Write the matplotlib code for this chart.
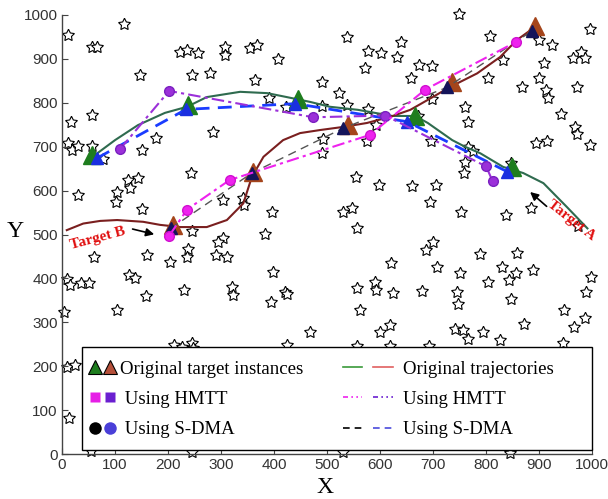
import numpy as np
import matplotlib
matplotlib.use("Agg")
import matplotlib.pyplot as plt
from matplotlib.lines import Line2D
from matplotlib.patches import Rectangle
from matplotlib.legend_handler import HandlerTuple

# === Sensor nodes (stars) ===
star_x = [11, 117, 57, 66, 147, 223, 235, 257, 246, 279, 307, 307, 355, 368, 364, 408, 390, 423,
          491, 491, 538, 640, 578, 602, 632, 572, 674, 698, 659, 523, 538, 577, 698, 672, 592, 575,
          696, 492, 491, 748, 808, 900, 925, 996, 964, 979, 987, 910, 832, 804, 868, 899, 912, 916,
          971, 942, 968, 972, 894, 915, 996, 760, 766, 766, 776, 760, 758, 846, 884, 838, 752, 974,
          17, 57, 11, 19, 30, 57, 78, 151, 178, 284, 243, 30, 104, 102, 125, 143, 128, 150, 303,
          342, 343, 396, 383, 245, 238, 236, 304, 294, 160, 60, 204, 290, 311, 398, 9, 15, 35, 50,
          126, 137, 158, 231, 320, 322, 394, 420, 424, 3, 104, 468, 10, 25, 14, 211, 227, 245, 247,
          424, 555, 598, 661, 706, 694, 530, 547, 556, 700, 687, 621, 708, 789, 858, 830, 844, 857,
          889, 751, 803, 557, 590, 592, 625, 679, 745, 746, 846, 562, 998, 988, 946, 966, 986, 871,
          600, 619, 741, 757, 766, 794, 826, 557, 619, 692, 945, 55, 245, 530, 845]
star_y = [955, 979, 927, 927, 863, 916, 920, 913, 863, 868, 927, 909, 925, 932, 852, 899, 811, 791,
          847, 793, 950, 938, 918, 913, 905, 879, 886, 884, 857, 822, 795, 786, 808, 771, 750, 712,
          714, 718, 686, 1002, 951, 942, 932, 968, 902, 916, 902, 890, 897, 856, 836, 856, 828, 810,
          836, 774, 745, 730, 709, 712, 703, 791, 757, 700, 690, 665, 641, 662, 560, 545, 552, 519,
          757, 772, 708, 693, 701, 702, 672, 692, 720, 734, 640, 590, 597, 574, 624, 628, 607, 559, 578,
          583, 568, 552, 502, 508, 468, 449, 493, 482, 453, 449, 437, 453, 449, 415, 398, 385, 390, 390,
          408, 400, 360, 374, 380, 362, 347, 369, 365, 323, 329, 278, 198, 204, 82, 248, 244, 253, 241,
          248, 632, 613, 610, 613, 573, 551, 560, 515, 482, 464, 435, 426, 456, 459, 427, 396, 412,
          419, 412, 392, 379, 393, 373, 367, 371, 369, 342, 353, 328, 403, 370, 328, 289, 311, 296,
          278, 294, 285, 282, 261, 278, 260, 247, 247, 247, 252, 6, 4, 5, 3]

# === Target A ===
trajA_x = [62, 100, 143, 194, 236, 273, 336, 387, 424, 468, 505, 558, 623, 666, 690, 736, 760,
           789, 832, 870, 908, 952, 991]
trajA_y = [681, 715, 749, 777, 791, 813, 825, 822, 813, 802, 791, 784, 770, 770, 754, 715, 700,
           685, 654, 640, 617, 563, 514]
instA_x = [57, 238, 446, 666, 849]
instA_y = [680, 795, 808, 770, 654]
sdmaA_x = [66, 234, 440, 651, 840]
sdmaA_y = [674, 785, 798, 757, 643]
hmttA_x = [109, 202, 474, 610, 800, 812]
hmttA_y = [694, 827, 767, 771, 655, 622]

# === Target B ===
trajB_x = [9, 40, 72, 104, 153, 185, 223, 273, 311, 342, 358, 380, 417, 449, 487, 530, 575, 619,
           657, 689, 732, 783, 826, 858, 889]
trajB_y = [510, 525, 531, 533, 529, 522, 517, 517, 533, 571, 631, 677, 715, 731, 738, 745, 754,
           768, 784, 806, 836, 867, 904, 943, 970]
instB_x = [209, 361, 540, 735, 893]
instB_y = [522, 643, 749, 848, 975]
sdmaB_x = [205, 358, 530, 726, 887]
sdmaB_y = [514, 640, 742, 835, 964]
hmttB_x = [202, 236, 316, 581, 685, 857]
hmttB_y = [497, 557, 624, 727, 830, 939]

ticks = list(range(0, 1001, 100))

# === Plot ===
fig = plt.figure(figsize=(6.08, 4.99), dpi=100)
ax = fig.add_axes([0.102, 0.090, 0.872, 0.880])

ax.plot(star_x, star_y, linestyle='none', marker=(5, 1, 0), markersize=9,
        markerfacecolor='white', markeredgecolor='black', markeredgewidth=0.8,
        clip_on=False, zorder=1)

# original trajectories
ax.plot(trajA_x, trajA_y, color='#2f6b4f', lw=1.5, zorder=3)
ax.plot(trajB_x, trajB_y, color='#7a1f1f', lw=1.5, zorder=3)

# original instances
ax.plot(instA_x, instA_y, linestyle='none', marker='^', markersize=13,
        color='#1e7d1e', zorder=4)
ax.plot(instB_x, instB_y, linestyle='none', marker='^', markersize=13,
        color='#a5451b', zorder=4)

# S-DMA
ax.plot(sdmaA_x, sdmaA_y, color='#1a3cff', lw=2, dashes=(5, 3), marker='^',
        markersize=9, markerfacecolor='#1a2fe0', markeredgecolor='#1a2fe0', zorder=5)
ax.plot(sdmaB_x, sdmaB_y, color='#555555', lw=1, dashes=(6, 4), marker='^',
        markersize=8, markerfacecolor='#14145a', markeredgecolor='#14145a', zorder=5)

# HMTT
ax.plot(hmttA_x, hmttA_y, color='#9b30d9', lw=1.5, dashes=(6, 2, 1.5, 2), marker='o',
        markersize=7, markerfacecolor='#9b30d9', markeredgecolor='#7a20c0', zorder=6)
ax.plot(hmttB_x, hmttB_y, color='#ee22ee', lw=1.5, dashes=(6, 2, 1.5, 2), marker='o',
        markersize=7, markerfacecolor='#ee22ee', markeredgecolor='#d010d0', zorder=6)

# === Annotations ===
ax.annotate('', xy=(179, 499), xytext=(128, 514),
            arrowprops=dict(arrowstyle='-|>', color='black', lw=1.2, mutation_scale=12))
ax.text(68, 492, 'Target B', color='#e01010', fontsize=11, fontweight='bold',
        family='Liberation Serif', rotation=15, ha='center', va='center', zorder=7)
ax.annotate('', xy=(879, 601), xytext=(918, 560),
            arrowprops=dict(arrowstyle='-|>', color='black', lw=1.2, mutation_scale=12))
ax.text(960, 533, 'Target A', color='#e01010', fontsize=11, fontweight='bold',
        family='Liberation Serif', rotation=-38, ha='center', va='center', zorder=7)

# === Axes ===
ax.set_xlim(0, 1000)
ax.set_ylim(0, 1000)
ax.set_xticks(ticks)
ax.set_yticks(ticks)
for s in ['top', 'right']:
    ax.spines[s].set_visible(False)
for s in ['left', 'bottom']:
    ax.spines[s].set_color('#444444')
    ax.spines[s].set_linewidth(1.0)
ax.tick_params(direction='in', length=4, color='#444444', labelcolor='#333333',
               labelsize=11, pad=3)
for lab in ax.get_xticklabels() + ax.get_yticklabels():
    lab.set_family('Liberation Sans')

ax.text(-0.089, 0.506, 'Y', transform=ax.transAxes, family='Liberation Serif',
        fontsize=17, ha='center', va='center')
ax.text(0.496, -0.077, 'X', transform=ax.transAxes, family='Liberation Serif',
        fontsize=17, ha='center', va='center')

# === Legend ===
ax.add_patch(Rectangle((0.038, 0.009), 0.962, 0.235, transform=ax.transAxes,
                       facecolor='white', edgecolor='black', lw=1.0, zorder=8, clip_on=False))

def mk(marker, color, edge='none', size=9):
    return Line2D([], [], linestyle='none', marker=marker, markersize=size,
                  markerfacecolor=color, markeredgecolor=edge, markeredgewidth=0.8)

def ln(color, **kw):
    return Line2D([], [], color=color, lw=1.2, **kw)

h_left = [(mk('^', '#1e7d1e', 'black', 10), mk('^', '#b5503a', 'black', 10)),
          (mk('s', '#e61ee6', size=7.5), mk('s', '#6a1fd0', size=7.5)),
          (mk('o', '#000000'), mk('o', '#4a3fd8'))]
l_left = ['Original target instances', ' Using HMTT', ' Using S-DMA']
h_right = [(ln('#3a9a3a'), ln('#e06060')),
           (ln('#ee22ee', dashes=(3, 2, 1, 2, 1, 2)), ln('#6a1fd0', dashes=(3, 2, 1, 2, 1, 2))),
           (ln('#000000', dashes=(4, 3)), ln('#4a4adc', dashes=(4, 3)))]
l_right = ['Original trajectories', 'Using HMTT', 'Using S-DMA']

leg_font = {'family': 'Liberation Serif', 'size': 13.5}
leg1 = ax.legend(h_left, l_left, handler_map={tuple: HandlerTuple(ndivide=None, pad=0.1)},
                 loc='upper left', bbox_to_anchor=(0.035, 0.230), frameon=False,
                 prop=leg_font, handlelength=1.5, handletextpad=0.2, labelspacing=0.7,
                 borderaxespad=0)
leg1.set_zorder(9)
ax.add_artist(leg1)
leg2 = ax.legend(h_right, l_right, handler_map={tuple: HandlerTuple(ndivide=None, pad=0.6)},
                 loc='upper left', bbox_to_anchor=(0.515, 0.230), frameon=False,
                 prop=leg_font, handlelength=2.7, handletextpad=0.5, labelspacing=0.7,
                 borderaxespad=0)
leg2.set_zorder(9)

fig.savefig('out.png', dpi=100)
